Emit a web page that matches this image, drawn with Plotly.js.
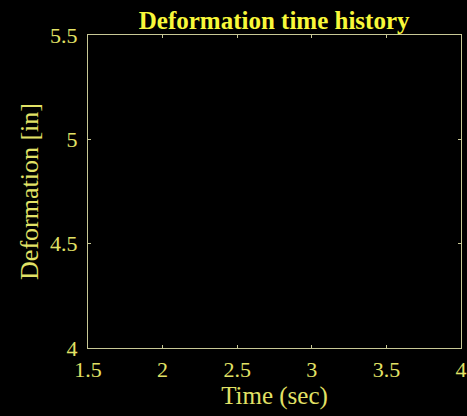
<!DOCTYPE html>
<html>
<head>
<meta charset="utf-8">
<script src="https://cdn.plot.ly/plotly-3.0.1.min.js"></script>
<style>html,body{margin:0;padding:0;background:#000;}</style>
</head>
<body>
<div id="chart" style="width:467px;height:416px;"></div>
<script>
// Data: the reference shows an empty time-history axes (no samples plotted)
const timeSec = [];
const deformationIn = [];
const xTickVals = [1.5, 2, 2.5, 3, 3.5, 4];
const xTickText = ["1.5", "2", "2.5", "3", "3.5", "4"];
const yTickVals = [4, 4.5, 5, 5.5];
const yTickText = ["4", "4.5", "5", "5.5"];
const xRange = [1.5, 4];
const yRange = [4, 5.5];

const axisColor = '#c8c896';
const labelColor = '#e2e266';
const font = 'Liberation Serif, Times New Roman, serif';

const trace = {x: timeSec, y: deformationIn, type: 'scatter', mode: 'lines',
  line: {color: '#ffff00', width: 1}, showlegend: false};

const axisCommon = {
  showgrid: false, zeroline: false, showline: true, linecolor: axisColor, linewidth: 1,
  mirror: 'ticks', ticks: 'inside', ticklen: 3, tickcolor: axisColor, tickwidth: 1,
  tickfont: {family: font, size: 22, color: labelColor}, tickmode: 'array'
};

const layout = {
  width: 467, height: 416,
  paper_bgcolor: '#000', plot_bgcolor: '#000',
  margin: {l: 88, r: 6, t: 35, b: 68},
  title: {text: '<b>Deformation time history</b>', font: {family: font, size: 25, color: '#f8f83a'},
    x: 0.587, xanchor: 'center', y: 0.952, yanchor: 'middle'},
  xaxis: Object.assign({}, axisCommon, {range: xRange, tickvals: xTickVals, ticktext: xTickText,
    ticklabelstandoff: 2,
    title: {text: 'Time (sec)', font: {family: font, size: 25, color: labelColor}, standoff: 0}}),
  yaxis: Object.assign({}, axisCommon, {range: yRange, tickvals: yTickVals, ticktext: yTickText,
    ticklabelstandoff: 5,
    title: {text: 'Deformation [in]', font: {family: font, size: 26, color: labelColor}, standoff: 3}}),
  showlegend: false
};

Plotly.newPlot('chart', [trace], layout, {displayModeBar: false, staticPlot: true});
</script>
</body>
</html>
